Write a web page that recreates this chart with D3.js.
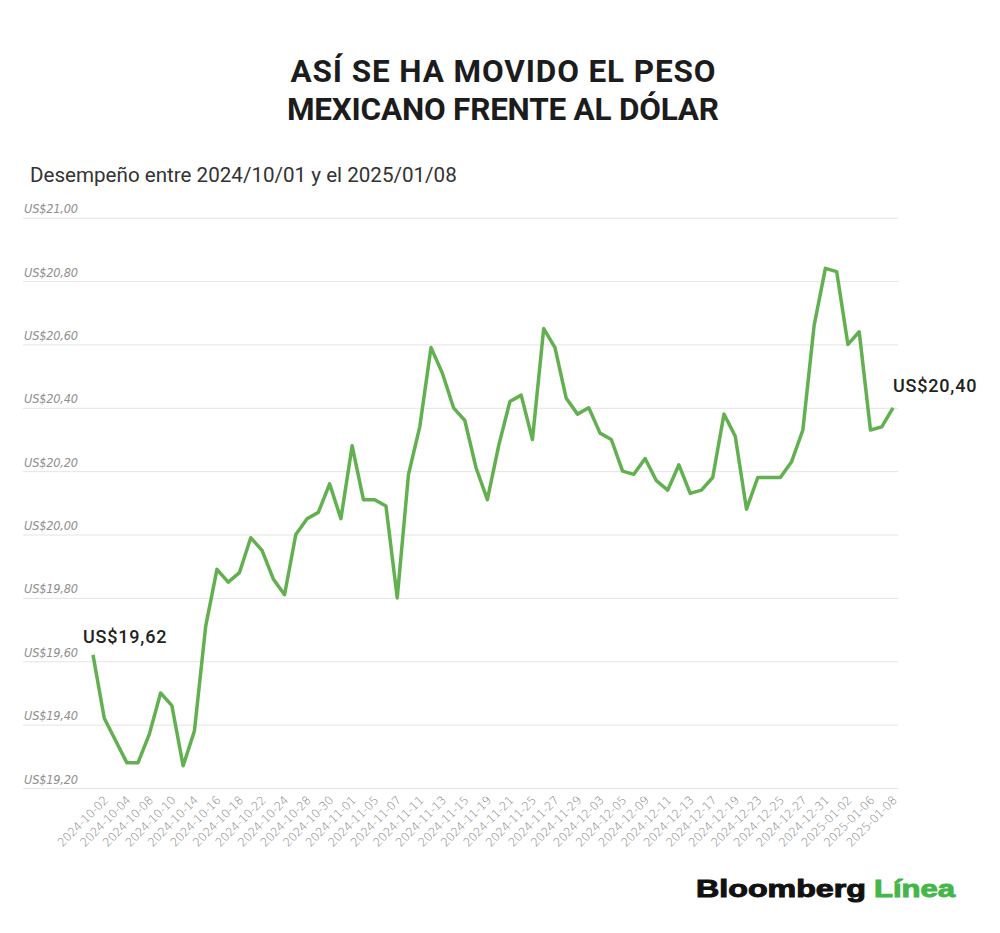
<!DOCTYPE html>
<html>
<head>
<meta charset="utf-8">
<script src="https://cdn.jsdelivr.net/npm/d3@7"></script>
<style>
  html, body { margin: 0; padding: 0; background: #fff; }
  svg { display: block; }
</style>
</head>
<body>
<script>
// fechas hábiles (incluye feriados) entre 2024-10-01 y 2025-01-08
const fechas = [
  "2024-10-01","2024-10-02","2024-10-03","2024-10-04","2024-10-07","2024-10-08","2024-10-09","2024-10-10",
  "2024-10-11","2024-10-14","2024-10-15","2024-10-16","2024-10-17","2024-10-18","2024-10-21","2024-10-22",
  "2024-10-23","2024-10-24","2024-10-25","2024-10-28","2024-10-29","2024-10-30","2024-10-31",
  "2024-11-01","2024-11-04","2024-11-05","2024-11-06","2024-11-07","2024-11-08","2024-11-11","2024-11-12",
  "2024-11-13","2024-11-14","2024-11-15","2024-11-18","2024-11-19","2024-11-20","2024-11-21","2024-11-22",
  "2024-11-25","2024-11-26","2024-11-27","2024-11-28","2024-11-29",
  "2024-12-02","2024-12-03","2024-12-04","2024-12-05","2024-12-06","2024-12-09","2024-12-10","2024-12-11",
  "2024-12-12","2024-12-13","2024-12-16","2024-12-17","2024-12-18","2024-12-19","2024-12-20","2024-12-23",
  "2024-12-24","2024-12-25","2024-12-26","2024-12-27","2024-12-30","2024-12-31",
  "2025-01-01","2025-01-02","2025-01-03","2025-01-06","2025-01-07","2025-01-08"
];

// pesos por dólar
const valores = [
  19.62, 19.42, 19.35, 19.28, 19.28, 19.37, 19.50, 19.46,
  19.27, 19.38, 19.71, 19.89, 19.85, 19.88, 19.99, 19.95,
  19.86, 19.81, 20.00, 20.05, 20.07, 20.16, 20.05,
  20.28, 20.11, 20.11, 20.09, 19.80, 20.19, 20.34, 20.59,
  20.51, 20.40, 20.36, 20.21, 20.11, 20.28, 20.42, 20.44,
  20.30, 20.65, 20.59, 20.43, 20.38,
  20.40, 20.32, 20.30, 20.20, 20.19, 20.24, 20.17, 20.14,
  20.22, 20.13, 20.14, 20.18, 20.38, 20.31, 20.08, 20.18,
  20.18, 20.18, 20.23, 20.33, 20.66, 20.84,
  20.83, 20.60, 20.64, 20.33, 20.34, 20.40
];

const ticksY = [19.2, 19.4, 19.6, 19.8, 20.0, 20.2, 20.4, 20.6, 20.8, 21.0];
// una etiqueta cada dos fechas
const ticksX = fechas.filter((d, i) => i % 2 === 1);

const titulo = ["ASÍ SE HA MOVIDO EL PESO", "MEXICANO FRENTE AL DÓLAR"];
const subtitulo = "Desempeño entre 2024/10/01 y el 2025/01/08";

const width = 1000, height = 933;
const verde = "#62b050";

const fmt = v => "US$" + v.toFixed(2).replace(".", ",");

const svg = d3.select("body").append("svg")
  .attr("width", width)
  .attr("height", height);

// titulo
svg.append("g").selectAll("text")
  .data(titulo)
  .enter().append("text")
  .attr("x", 503)
  .attr("y", (d, i) => 82 + i * 37.5)
  .attr("text-anchor", "middle")
  .attr("textLength", (d, i) => i === 0 ? 425 : 432)
  .attr("lengthAdjust", "spacing")
  .style("font-family", "Roboto, sans-serif")
  .style("font-weight", "700")
  .style("font-size", "31.5px")
  .style("fill", "#1c1c1c")
  .text(d => d);

svg.append("text")
  .attr("x", 30)
  .attr("y", 182)
  .style("font-family", "Roboto, sans-serif")
  .style("font-size", "20.6px")
  .style("fill", "#333")
  .text(subtitulo);

// escalas
const x = d3.scalePoint()
  .domain(fechas)
  .range([93, 893]);

const y = d3.scaleLinear()
  .domain([19.2, 21.0])
  .range([788, 217.7]);

// grilla y etiquetas de y
const gy = svg.append("g")
  .attr("transform", "translate(23,0)")
  .call(d3.axisRight(y).tickValues(ticksY).tickSize(875).tickFormat(fmt));
gy.select(".domain").remove();
gy.selectAll(".tick line").attr("stroke", "#e4e4e4").attr("stroke-width", 1);
gy.selectAll(".tick text")
  .attr("x", 1)
  .attr("dy", -5)
  .attr("text-anchor", "start")
  .style("font-family", "'DejaVu Sans', sans-serif")
  .style("font-weight", "200")
  .style("font-style", "italic")
  .style("font-size", "11.4px")
  .style("letter-spacing", "-0.2px")
  .style("fill", "#8f8f8f");

// eje x
const gx = svg.append("g")
  .attr("transform", "translate(0,788)")
  .call(d3.axisBottom(x).tickValues(ticksX).tickSize(0));
gx.select(".domain").remove();
gx.selectAll(".tick text")
  .attr("x", 0)
  .attr("y", 0)
  .attr("dy", 0)
  .attr("transform", "translate(4,13)rotate(-45)")
  .attr("text-anchor", "end")
  .style("font-family", "'DejaVu Sans', sans-serif")
  .style("font-weight", "200")
  .style("font-size", "11.6px")
  .style("letter-spacing", "-0.2px")
  .style("fill", "#808080");

// linea
const datos = fechas.map((d, i) => ({ fecha: d, valor: valores[i] }));

svg.append("path")
  .datum(datos)
  .attr("fill", "none")
  .attr("stroke", verde)
  .attr("stroke-width", 3.5)
  .attr("stroke-linejoin", "round")
  .attr("d", d3.line().x(d => x(d.fecha)).y(d => y(d.valor)));

// etiquetas primer y ultimo valor
const primero = datos[0], ultimo = datos[datos.length - 1];
svg.append("text")
  .attr("x", x(primero.fecha) - 10)
  .attr("y", y(primero.valor) - 12)
  .style("font-family", "Roboto, sans-serif")
  .style("font-weight", "500")
  .style("font-size", "18px")
  .style("letter-spacing", "0.8px")
  .style("fill", "#222")
  .text(fmt(primero.valor));

svg.append("text")
  .attr("x", x(ultimo.fecha))
  .attr("y", y(ultimo.valor) - 16)
  .style("font-family", "Roboto, sans-serif")
  .style("font-weight", "500")
  .style("font-size", "18px")
  .style("letter-spacing", "0.8px")
  .style("fill", "#222")
  .text(fmt(ultimo.valor));

// logo
const logo = svg.append("g").style("font-family", "'Liberation Sans', Arial, sans-serif").style("font-weight", "700");
logo.append("text")
  .attr("x", 696)
  .attr("y", 897)
  .attr("textLength", 170)
  .attr("lengthAdjust", "spacingAndGlyphs")
  .style("font-size", "24.5px")
  .style("fill", "#111")
  .style("stroke", "#111")
  .style("stroke-width", 1)
  .text("Bloomberg");
logo.append("text")
  .attr("x", 874)
  .attr("y", 897)
  .attr("textLength", 81)
  .attr("lengthAdjust", "spacingAndGlyphs")
  .style("font-size", "24.5px")
  .style("fill", "#45b649")
  .style("stroke", "#45b649")
  .style("stroke-width", 1)
  .text("Línea");
</script>
</body>
</html>
